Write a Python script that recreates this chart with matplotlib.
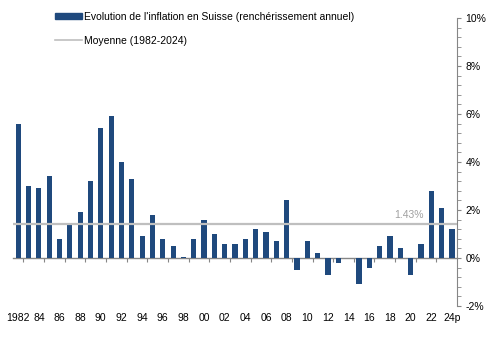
import numpy as np
import matplotlib.pyplot as plt
from matplotlib.patches import Patch
from matplotlib.lines import Line2D

plt.rcParams['font.family'] = ['Liberation Sans', 'DejaVu Sans']

# Données : renchérissement annuel en Suisse (%)
annees = list(range(1982, 2025))
inflation = [5.6, 3.0, 2.9, 3.4, 0.8, 1.4, 1.9, 3.2, 5.4, 5.9,
             4.0, 3.3, 0.9, 1.8, 0.8, 0.5, 0.05, 0.8, 1.6, 1.0,
             0.6, 0.6, 0.8, 1.2, 1.1, 0.7, 2.4, -0.5, 0.7, 0.2,
             -0.7, -0.2, 0.0, -1.1, -0.4, 0.5, 0.9, 0.4, -0.7, 0.6,
             2.8, 2.1, 1.2]
moyenne = 1.43
etiquettes = ["1982", "84", "86", "88", "90", "92", "94", "96", "98", "00", "02",
              "04", "06", "08", "10", "12", "14", "16", "18", "20", "22", "24p"]
y_ticks = [-2, 0, 2, 4, 6, 8, 10]

bleu = '#1f497d'
gris = '#bfbfbf'
axe = '#868686'

fig = plt.figure(figsize=(4.91, 3.40), dpi=100)
ax = fig.add_axes([0.0265, 0.1, 0.9045, 0.847])

x = np.arange(len(annees))
ax.bar(x, inflation, width=0.5, color=bleu)
ax.axhline(moyenne, color=gris, lw=1.6, zorder=3)
ax.text(39.3, moyenne + 0.15, f"{moyenne:.2f}%", ha='right', va='bottom',
        fontsize=7.5, color='#a0a0a0')

ymin, ymax = -2, 10
ax.set_xlim(-0.5, len(annees) - 0.5)
ax.set_ylim(ymin, ymax)

# axe des y à droite
ax.yaxis.tick_right()
ax.set_yticks(y_ticks)
ax.set_yticklabels([f"{v}%" for v in y_ticks])
ax.set_yticks(np.arange(ymin, ymax + 0.01, 0.4), minor=True)
ax.tick_params(axis='y', which='both', direction='out', length=3, color=axe,
               labelsize=7.5, pad=3)

# étiquettes des années en bas
ax.set_xticks(x[::2])
ax.set_xticklabels(etiquettes)
ax.tick_params(axis='x', which='major', length=0, labelsize=7.5, pad=5)

for s in ['left', 'top', 'bottom']:
    ax.spines[s].set_visible(False)
ax.spines['right'].set_color(axe)

# ligne du zéro avec graduations entre les paires d'années
zero = ax.secondary_xaxis((0 - ymin) / (ymax - ymin))
zero.set_xticks(x[:-1:2] + 0.5)
zero.set_xticklabels([])
zero.tick_params(axis='x', length=3, color=axe, direction='out')
zero.spines['bottom'].set_color(axe)
zero.spines['bottom'].set_linewidth(1.0)

handles = [Patch(color=bleu, label="Evolution de l'inflation en Suisse (renchérissement annuel)"),
           Line2D([], [], color=gris, lw=1.2, label="Moyenne (1982-2024)")]
leg = ax.legend(handles=handles, loc='upper left', bbox_to_anchor=(0.085, 1.035),
                frameon=False, fontsize=7.5, handlelength=2.6, handleheight=0.5,
                handletextpad=0.2, labelspacing=1.3, borderaxespad=0)

fig.savefig('out.png', dpi=100)
